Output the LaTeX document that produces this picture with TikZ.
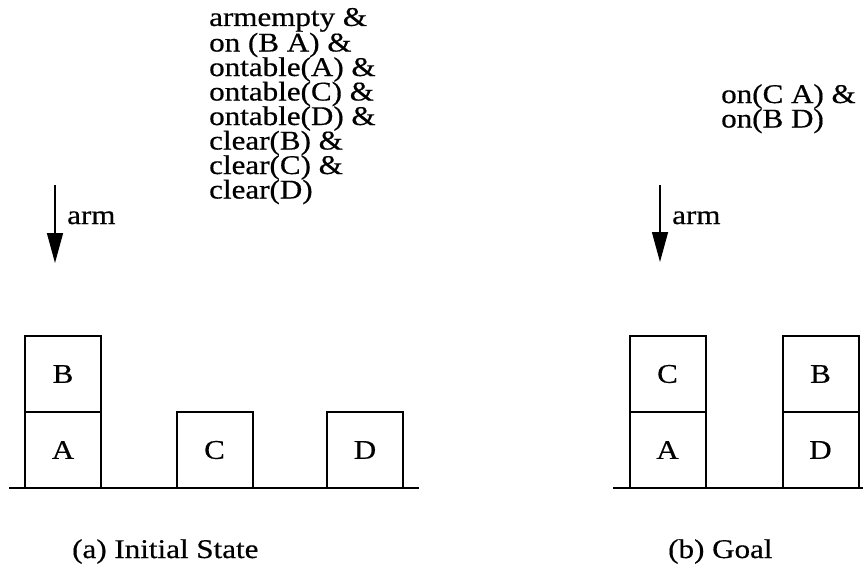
\documentclass[tikz,border=0pt]{standalone}
\usepackage{fontspec}
\setmainfont[FakeStretch=1.15,FakeBold=0.5]{Liberation Serif}
\usetikzlibrary{arrows.meta}
\begin{document}
\begin{tikzpicture}[x=1pt,y=-1pt,
  txt/.style={font=\fontsize{27}{24.5}\selectfont, inner sep=0pt},
  blk/.style={draw, line width=2pt, minimum width=76pt, minimum height=76pt, inner sep=0pt, font=\fontsize{27}{24.5}\selectfont},
  ground/.style={line width=2.5pt},
  armarrow/.style={line width=1.5pt, -{Triangle[length=30pt,width=16pt]}}]
\useasboundingbox (0,0) rectangle (863,571);
% initial state blocks
\node[blk] (A1) at (63,450) {A};
\node[blk] (B1) at (63,374) {B};
\node[blk] (C1) at (214.5,450) {C};
\node[blk] (D1) at (365,450) {D};
% goal blocks
\node[blk] (A2) at (667.5,450) {A};
\node[blk] (C2) at (667.5,374) {C};
\node[blk] (D2) at (820.5,450) {D};
\node[blk] (B2) at (820.5,374) {B};
% ground lines
\coordinate (g1l) at (9,488);
\coordinate (g1r) at (419,488);
\coordinate (g2l) at (613,488);
\coordinate (g2r) at (863,488);
\draw[ground] (g1l) -- (g1r);
\draw[ground] (g2l) -- (g2r);
% arms
\coordinate (a1s) at (55,185);
\coordinate (a1e) at (55,263);
\draw[armarrow] (a1s) -- (a1e);
\node[txt, anchor=base west] (arm1) at (67,224) {arm};
\coordinate (a2s) at (660,185);
\coordinate (a2e) at (660,262);
\draw[armarrow] (a2s) -- (a2e);
\node[txt, anchor=base west] (arm2) at (672,224) {arm};
% state descriptions (base anchor = last line)
\node[txt, anchor=base west, align=left] (init) at (209,198.5) {armempty \&\\on (B A) \&\\ontable(A) \&\\ontable(C) \&\\ontable(D) \&\\clear(B) \&\\clear(C) \&\\clear(D)};
\node[txt, anchor=base west, align=left] (goal) at (721,127.5) {on(C A) \&\\on(B D)};
% captions
\node[txt, anchor=base west] (capa) at (72,558) {(a) Initial State};
\node[txt, anchor=base west] (capb) at (668,558) {(b) Goal};
\end{tikzpicture}
\end{document}
